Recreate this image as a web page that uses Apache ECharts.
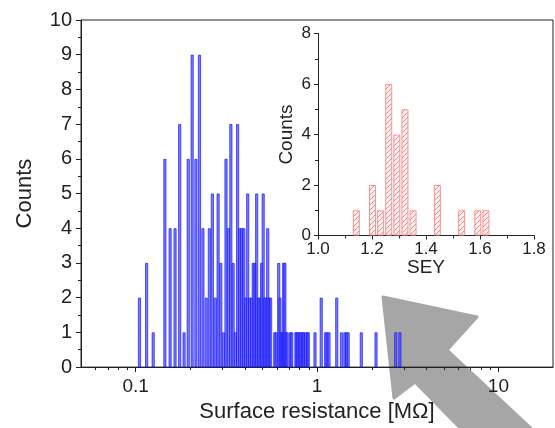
<!DOCTYPE html>
<html>
<head>
<meta charset="utf-8">
<script src="https://cdn.jsdelivr.net/npm/echarts@6/dist/echarts.min.js"></script>
<style>
html,body{margin:0;padding:0;background:#fff;}
#chart{width:555px;height:428px;}
</style>
</head>
<body>
<div id="chart"></div>
<script>
// ---- Main histogram: surface resistance (MΩ), bin centres and counts ----
const resBins = [0.105,0.115,0.125,0.145,0.155,0.165,0.175,0.185,0.195,0.205,0.215,0.225,0.235,0.245,0.255,0.265,0.275,0.285,0.295,0.305,0.315,0.325,0.335,0.345,0.355,0.365,0.375,0.385,0.395,0.405,0.415,0.425,0.435,0.445,0.455,0.465,0.475,0.485,0.495,0.505,0.515,0.525,0.535,0.545,0.555,0.585,0.595,0.615,0.625,0.635,0.645,0.655,0.665,0.675,0.685,0.715,0.725,0.765,0.775,0.785,0.805,0.815,0.835,0.845,0.865,0.885,0.895,0.975,1.055,1.115,1.135,1.165,1.285,1.365,1.425,1.455,1.485,1.755,2.115,2.715,2.865];
const resCounts = [2,3,1,6,4,4,7,1,6,9,6,9,4,2,4,5,2,5,3,1,6,4,7,3,1,7,4,4,4,2,5,2,2,3,3,5,2,2,3,5,2,2,4,2,2,1,1,3,2,1,1,3,3,1,1,1,1,1,1,1,1,1,1,1,1,1,1,1,2,1,1,1,2,1,1,1,1,1,1,1,1];

// ---- Inset histogram: SEY ----
const seyBins = [1.142,1.202,1.232,1.262,1.292,1.322,1.352,1.442,1.532,1.592,1.622];
const seyCounts = [1,2,1,6,4,5,1,2,1,1,1];

// ---- Axis decorations ----
const resMinorTicks = [0.06,0.07,0.08,0.09,0.2,0.3,0.4,0.5,0.6,0.7,0.8,0.9,2,3,4,5,6,7,8,9];
const texts = {
  xName: 'Surface resistance [MΩ]',
  yName: 'Counts',
  insetX: 'SEY',
  insetY: 'Counts'
};

const FONT = '"Liberation Sans", Arial, sans-serif';
const INK = '#222';

// hatch pattern for the inset bars
const pc = document.createElement('canvas');
pc.width = 5; pc.height = 5;
const g = pc.getContext('2d');
g.fillStyle = '#fff4f4'; g.fillRect(0,0,5,5);
g.strokeStyle = 'rgba(255,110,110,0.85)'; g.lineWidth = 1;
g.beginPath();
g.moveTo(-1,6); g.lineTo(6,-1);
g.moveTo(-1,1); g.lineTo(1,-1);
g.moveTo(4,6); g.lineTo(6,4);
g.stroke();

const chart = echarts.init(document.getElementById('chart'), null, {renderer:'canvas'});

function isDecade(v){ const l = Math.log10(v); return Math.abs(l - Math.round(l)) < 1e-6; }

const option = {
  animation: false,
  backgroundColor: '#ffffff',
  graphic: [{
    type: 'polygon',
    z: -10,
    silent: true,
    shape: { points: [[383,297],[477,317],[447,350],[535,432],[464,432],[415,382],[394,398]] },
    style: { fill: '#a6a6a6', stroke: '#a6a6a6', lineWidth: 3, lineJoin: 'round' }
  }],
  grid: [
    { left: 81, top: 20, width: 472, height: 351, show: true, borderColor: INK, borderWidth: 1, backgroundColor: 'transparent' },
    { left: 318, top: 33.5, width: 216, height: 202 }
  ],
  xAxis: [
    {
      type: 'log', logBase: 10, min: 0.05, max: 20, gridIndex: 0,
      name: texts.xName, nameLocation: 'middle', nameGap: 30,
      nameTextStyle: { fontFamily: FONT, fontSize: 22, color: INK },
      axisLine: { show: true, lineStyle: { color: INK, width: 1 } },
      axisTick: { show: true, inside: false, length: 5, lineStyle: { color: INK } },
      minorTick: { show: false },
      splitLine: { show: false },
      axisLabel: {
        fontFamily: FONT, fontSize: 19, color: INK, margin: 10,
        showMinLabel: false, showMaxLabel: false,
        formatter: function(v){ return isDecade(v) ? String(+v.toPrecision(6)) : ''; }
      }
    },
    {
      type: 'value', min: 1.0, max: 1.8, interval: 0.2, gridIndex: 1,
      name: texts.insetX, nameLocation: 'middle', nameGap: 22,
      nameTextStyle: { fontFamily: FONT, fontSize: 19, color: INK },
      axisLine: { show: true, onZero: false, lineStyle: { color: INK, width: 1 } },
      axisTick: { show: true, inside: false, length: 4, lineStyle: { color: INK } },
      minorTick: { show: true, splitNumber: 2, length: 3, lineStyle: { color: INK } },
      splitLine: { show: false },
      axisLabel: { fontFamily: FONT, fontSize: 17, color: INK, margin: 5,
        formatter: function(v){ return v.toFixed(1); } }
    }
  ],
  yAxis: [
    {
      type: 'value', min: 0, max: 10, interval: 1, gridIndex: 0,
      name: texts.yName, nameLocation: 'middle', nameGap: 45, nameRotate: 90,
      nameTextStyle: { fontFamily: FONT, fontSize: 22, color: INK },
      axisLine: { show: true, lineStyle: { color: INK, width: 1 } },
      axisTick: { show: true, inside: false, length: 5, lineStyle: { color: INK } },
      minorTick: { show: true, splitNumber: 2, length: 3, lineStyle: { color: INK } },
      splitLine: { show: false },
      axisLabel: { fontFamily: FONT, fontSize: 20, color: INK, margin: 9 }
    },
    {
      type: 'value', min: 0, max: 8, interval: 2, gridIndex: 1,
      name: texts.insetY, nameLocation: 'middle', nameGap: 22, nameRotate: 90,
      nameTextStyle: { fontFamily: FONT, fontSize: 19, color: INK },
      axisLine: { show: true, lineStyle: { color: INK, width: 1 } },
      axisTick: { show: true, inside: false, length: 4, lineStyle: { color: INK } },
      minorTick: { show: true, splitNumber: 2, length: 3, lineStyle: { color: INK } },
      splitLine: { show: false },
      axisLabel: { fontFamily: FONT, fontSize: 17, color: INK, margin: 7 }
    }
  ],
  series: [
    {
      type: 'bar', xAxisIndex: 0, yAxisIndex: 0,
      barWidth: 3,
      data: resBins.map((v,i) => [v, resCounts[i]]),
      itemStyle: { color: 'rgba(80,80,255,0.75)', borderColor: 'rgba(20,20,255,0.85)', borderWidth: 0.8 },
      z: 2
    },
    {
      type: 'custom', xAxisIndex: 0, yAxisIndex: 0, silent: true, clip: false, z: 5,
      data: resMinorTicks.map(v => [v, 0]),
      renderItem: function(params, api){
        const p = api.coord([api.value(0), 0]);
        const x = Math.round(p[0]) + 0.5;
        return { type: 'line', shape: { x1: x, y1: p[1], x2: x, y2: p[1] + 3 }, style: { stroke: INK, lineWidth: 1 } };
      }
    },
    {
      type: 'bar', xAxisIndex: 1, yAxisIndex: 1,
      barWidth: 7,
      data: seyBins.map((v,i) => [v, seyCounts[i]]),
      itemStyle: { color: { image: pc, repeat: 'repeat' }, borderColor: '#ff8f8f', borderWidth: 1 },
      z: 2
    }
  ]
};
chart.setOption(option);
</script>
</body>
</html>
